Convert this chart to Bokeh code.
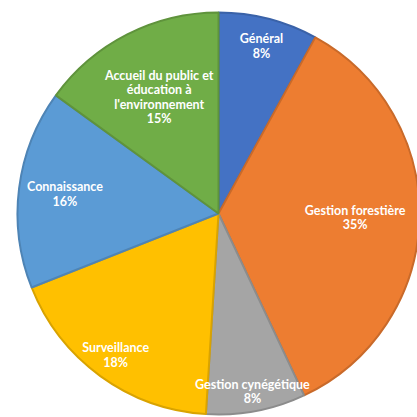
import math
from bokeh.plotting import figure
from bokeh.models import Range1d, ColumnDataSource
from bokeh.core.properties import value
from bokeh.embed import file_html
from bokeh.resources import INLINE

categories = ["Général", "Gestion forestière", "Gestion cynégétique",
              "Surveillance", "Connaissance",
              "Accueil du public et\néducation à\nl'environnement"]
percents = [8, 35, 8, 18, 16, 15]
colors = ["#4472C4", "#ED7D31", "#A5A5A5", "#FFC000", "#5B9BD5", "#70AD47"]
edges = ["#3A62A8", "#C96A2A", "#8C8C8C", "#D9A300", "#4E84B5", "#5F933C"]
label_r = [0.86, 0.68, 0.90, 0.87, 0.77, 0.65]

R = 201.0
total = float(sum(percents))
starts, ends, lx, ly, labels = [], [], [], [], []
a = math.pi / 2
for c, v, fr in zip(categories, percents, label_r):
    sweep = v / total * 2 * math.pi
    starts.append(a)
    ends.append(a - sweep)
    mid = a - sweep / 2
    lx.append(fr * R * math.cos(mid))
    ly.append(fr * R * math.sin(mid))
    labels.append(f"{c}\n{v}%")
    a -= sweep

src = ColumnDataSource(dict(start=starts, end=ends, color=colors, edge=edges))
lsrc = ColumnDataSource(dict(x=lx, y=ly, text=labels))

p = figure(width=417, height=417, output_backend="svg", toolbar_location=None,
           x_range=Range1d(-218, 199), y_range=Range1d(-204, 213),
           min_border=0, outline_line_color=None)
p.axis.visible = False
p.grid.visible = False

p.wedge(x=0, y=0, radius=R, start_angle="start", end_angle="end",
        direction="clock", fill_color="color", line_color="edge",
        line_width=2, source=src)
p.text(x="x", y="y", text="text", source=lsrc, text_color="white",
       text_font=value("Lato"), text_font_style="bold", text_font_size="12.5px",
       text_align="center", text_baseline="middle", text_line_height=0.95)

open("out.html", "w").write(file_html(p, INLINE))
